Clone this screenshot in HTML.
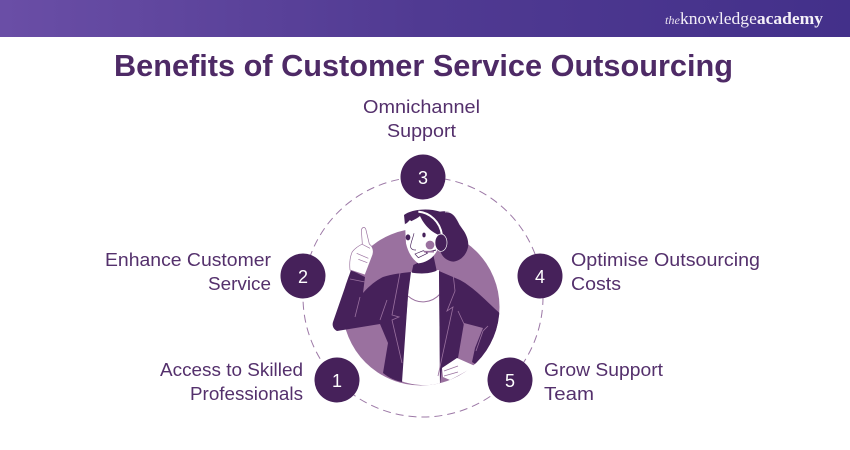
<!DOCTYPE html>
<html><head><meta charset="utf-8"><style>
html,body{margin:0;padding:0;background:#fff;width:850px;height:450px;overflow:hidden}
svg{display:block}
.l{font-family:"Liberation Sans",sans-serif;font-size:18px;fill:#54306c}
.n{font-family:"Liberation Sans",sans-serif;font-size:18px;fill:#fff;text-anchor:middle}
</style></head><body>
<svg width="850" height="450" viewBox="0 0 850 450" xmlns="http://www.w3.org/2000/svg">
<defs>
<linearGradient id="g" x1="0" x2="1" y1="0" y2="0"><stop offset="0" stop-color="#6a4ea6"/><stop offset=".5" stop-color="#503a92"/><stop offset="1" stop-color="#43308a"/></linearGradient>
<clipPath id="c"><circle cx="421" cy="307" r="78.5"/></clipPath>
</defs>
<rect width="850" height="37" fill="url(#g)"/>
<text x="665" y="24" font-family="Liberation Serif,serif" font-style="italic" font-size="12" fill="#e8e0f0" textLength="15" lengthAdjust="spacingAndGlyphs">the</text>
<text x="680" y="24" font-family="Liberation Serif,serif" font-size="17" fill="#f4f0f8" textLength="143" lengthAdjust="spacingAndGlyphs">knowledge<tspan font-weight="bold">academy</tspan></text>
<text x="114" y="76" font-family="Liberation Sans,sans-serif" font-weight="bold" font-size="31" fill="#4e2a66" textLength="619" lengthAdjust="spacingAndGlyphs">Benefits of Customer Service Outsourcing</text>

<circle cx="423" cy="297" r="120" fill="none" stroke="#9c78a6" stroke-width="1" stroke-dasharray="8 5"/>

<circle cx="421" cy="307" r="78.5" fill="#9a719f"/>

<!-- shirt -->
<path d="M410 272L439 270L440 385C425 386 412 385 401 381Z" fill="#fff" clip-path="url(#c)"/>
<path d="M408 296C418 305 432 303 440 294" fill="none" stroke="#9a719f" stroke-width="1"/>

<!-- left sleeve and body -->
<path d="M351 270L365 277L363 293C370 285 377 280 383 277C392 274 402 273 411 272L408 295L402 382C396 381 389 378 383 373L388 343L380 324L337 331C333 329 332 325 333 322Z" fill="#46215a"/>
<path d="M350 279L365 282M400 273L392 315L399 317L392 320L402 363M360 297L355 317M387 300L380 320" fill="none" stroke="#9a719f" stroke-width=".8"/>

<!-- right body and sleeve -->
<g clip-path="url(#c)">
<path d="M439 271L460 280C475 288 490 305 503 316V340L478 366L472 362L475 348L483 328L464 323L458 358L442 368L440 385Z" fill="#46215a"/>
</g>
<path d="M453 272L455 290L447 310L453 306L438 375M458 310L465 325M488 325L483 330L476 350" fill="none" stroke="#9a719f" stroke-width=".8" transform="translate(0 1)"/>

<!-- lower hand -->
<path d="M442 368L457 358L475 366L463 373L450 380L443 377Z" fill="#fff"/>
<path d="M444 371L458 366M444 376L458 372" stroke="#9a719f" stroke-width=".8" fill="none"/>

<!-- raised hand -->
<g transform="translate(330 220) scale(.33333)">
<path d="M97 72L94 30C97 20 106 20 108 30L118 72C128 80 132 92 128 105L105 165L60 150C58 130 60 110 67 95C75 85 85 78 97 72Z" fill="#fff" stroke="#9a719f" stroke-width="2"/>
<path d="M80 100L115 115M85 118L112 128M95 72L120 85" fill="none" stroke="#9a719f" stroke-width="2"/>
</g>

<!-- head -->
<g transform="translate(390 200) scale(.33333)">
<path d="M70 195L130 165L140 212C120 222 90 222 65 218Z" fill="#46215a"/>
<path d="M42 45C60 30 110 22 150 35C175 30 195 40 205 65C215 85 235 105 235 135C232 165 210 183 190 185C170 183 155 170 150 150L60 60L45 75Z" fill="#46215a"/>
<path d="M165 36C190 33 200 55 210 75C220 90 235 105 238 125" fill="none" stroke="#fff" stroke-width="2"/>
<path d="M45 72C60 65 78 58 90 48C100 70 120 95 147 105L142 150C132 172 110 188 85 190C68 178 55 160 48 130Z" fill="#fff"/>
<circle cx="120" cy="135" r="13" fill="#9a719f"/>
<ellipse cx="54" cy="112" rx="7" ry="9" fill="#46215a"/>
<ellipse cx="102" cy="105" rx="5" ry="7" fill="#46215a"/>
<path d="M72 100C68 118 60 132 62 142C65 150 72 150 78 150" fill="none" stroke="#46215a" stroke-width="2"/>
<path d="M85 35C120 38 150 65 156 105" fill="none" stroke="#fff" stroke-width="6"/>
<ellipse cx="153" cy="128" rx="18" ry="26" fill="#46215a" stroke="#fff" stroke-width="2"/>
<path d="M138 150L100 160" stroke="#46215a" stroke-width="3"/>
<path d="M75 162L100 152L112 160L85 173Z" fill="#fff" stroke="#46215a" stroke-width="2"/>
<path d="M102 155L132 155" stroke="#9a719f" stroke-width="5"/>
</g>

<circle cx="423" cy="177" r="22.5" fill="#46215a"/>
<circle cx="303" cy="276" r="22.5" fill="#46215a"/>
<circle cx="540" cy="276" r="22.5" fill="#46215a"/>
<circle cx="337" cy="380" r="22.5" fill="#46215a"/>
<circle cx="510" cy="380" r="22.5" fill="#46215a"/>
<text class="n" x="423" y="184">3</text>
<text class="n" x="303" y="283">2</text>
<text class="n" x="540" y="283">4</text>
<text class="n" x="337" y="387">1</text>
<text class="n" x="510" y="387">5</text>

<text class="l" x="363" y="113" textLength="117" lengthAdjust="spacingAndGlyphs">Omnichannel</text>
<text class="l" x="387" y="137" textLength="69" lengthAdjust="spacingAndGlyphs">Support</text>
<text class="l" x="105" y="266" textLength="166" lengthAdjust="spacingAndGlyphs">Enhance Customer</text>
<text class="l" x="208" y="290" textLength="63" lengthAdjust="spacingAndGlyphs">Service</text>
<text class="l" x="571" y="266" textLength="189" lengthAdjust="spacingAndGlyphs">Optimise Outsourcing</text>
<text class="l" x="571" y="290" textLength="50" lengthAdjust="spacingAndGlyphs">Costs</text>
<text class="l" x="160" y="376" textLength="143" lengthAdjust="spacingAndGlyphs">Access to Skilled</text>
<text class="l" x="190" y="400" textLength="113" lengthAdjust="spacingAndGlyphs">Professionals</text>
<text class="l" x="544" y="376" textLength="119" lengthAdjust="spacingAndGlyphs">Grow Support</text>
<text class="l" x="544" y="400" textLength="50" lengthAdjust="spacingAndGlyphs">Team</text>
</svg>
</body></html>
